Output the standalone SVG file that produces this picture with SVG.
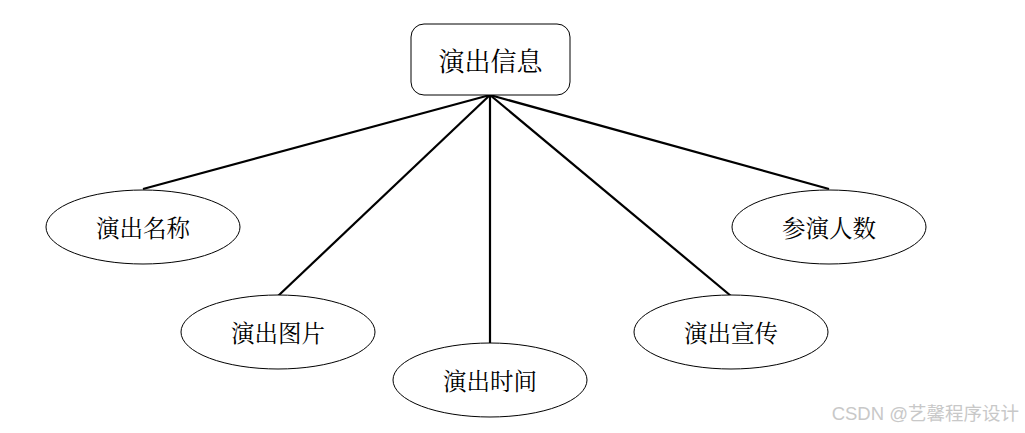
<svg xmlns="http://www.w3.org/2000/svg" width="1025" height="433" viewBox="0 0 1025 433">
<style>
.n{fill:#fff;stroke:#000;stroke-width:1}
.t{font-family:"Noto Serif CJK SC","Noto Sans CJK SC",serif;font-size:23.5px;fill:#000;text-anchor:middle;dominant-baseline:central}
.r{font-size:26px}
.c line{stroke:#000;stroke-width:2.2}
.w{font-family:"Liberation Sans","Noto Sans CJK SC",sans-serif;font-size:18.5px;fill:#c8c8c8;text-anchor:end}
</style>
<rect width="1025" height="433" fill="#fff"/>
<g class="c" id="connectors">
<line x1="490" y1="95" x2="143" y2="189"/>
<line x1="490" y1="95" x2="278" y2="296"/>
<line x1="490" y1="95" x2="490" y2="343"/>
<line x1="490" y1="95" x2="731" y2="296"/>
<line x1="490" y1="95" x2="829" y2="189"/>
</g>
<g id="root"><rect class="n" x="411" y="24" width="159" height="71" rx="13"/><text class="t r" x="490.5" y="59">演出信息</text></g>
<g id="name"><ellipse class="n" cx="143" cy="227" rx="97" ry="37"/><text class="t" x="143" y="227">演出名称</text></g>
<g id="pic"><ellipse class="n" cx="278" cy="332" rx="97" ry="37"/><text class="t" x="278" y="332">演出图片</text></g>
<g id="time"><ellipse class="n" cx="490" cy="380" rx="97" ry="37"/><text class="t" x="490" y="380">演出时间</text></g>
<g id="promo"><ellipse class="n" cx="731" cy="332" rx="97" ry="37"/><text class="t" x="731" y="332">演出宣传</text></g>
<g id="count"><ellipse class="n" cx="829" cy="227" rx="97" ry="37"/><text class="t" x="829" y="227">参演人数</text></g>
<text class="w" x="1019" y="420">CSDN @艺馨程序设计</text>
</svg>
